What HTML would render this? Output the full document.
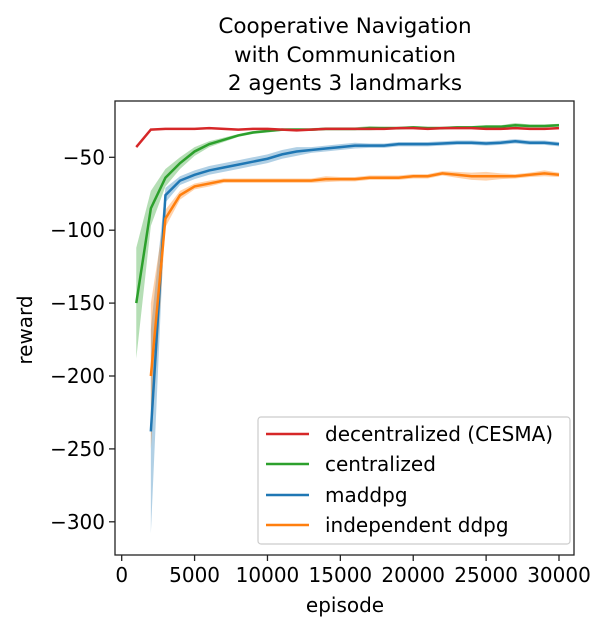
<!DOCTYPE html>
<html><head><meta charset="utf-8"><style>
body{margin:0;background:#fff;}
svg text{font-family:"DejaVu Sans","Liberation Sans",sans-serif;fill:#000;}
</style></head><body>
<svg id="chart" width="607" height="633" xmlns="http://www.w3.org/2000/svg">
<g font-size="21.5" text-anchor="middle">
<text x="345" y="33">Cooperative Navigation</text>
<text x="345" y="62">with Communication</text>
<text x="345" y="90">2 agents 3 landmarks</text>
</g>
<g id="bands"></g>
<g id="lines"></g>
<g id="axes"></g>
<text x="345" y="612" font-size="20" text-anchor="middle">episode</text>
<text transform="translate(32,330) rotate(-90)" font-size="20" text-anchor="middle">reward</text>
<g>
<rect x="258" y="417" width="312" height="127" rx="3" fill="#fff" fill-opacity="0.8" stroke="#ccc" stroke-width="1.2"/>
<g><line x1="266" y1="434" x2="309" y2="434" stroke="#d62728" stroke-width="2.5"/><text x="325" y="441" font-size="20">decentralized (CESMA)</text></g>
<g><line x1="266" y1="464" x2="309" y2="464" stroke="#2ca02c" stroke-width="2.5"/><text x="325" y="471" font-size="20">centralized</text></g>
<g><line x1="266" y1="495" x2="309" y2="495" stroke="#1f77b4" stroke-width="2.5"/><text x="325" y="502" font-size="20">maddpg</text></g>
<g><line x1="266" y1="525" x2="309" y2="525" stroke="#ff7f0e" stroke-width="2.5"/><text x="325" y="532" font-size="20">independent ddpg</text></g>
</g>
</svg>
<script>
const cesmaEpisodes=[1000,2000,3000,4000,5000,6000,7000,8000,9000,10000,11000,12000,13000,14000,15000,16000,17000,18000,19000,20000,21000,22000,23000,24000,25000,26000,27000,28000,29000,30000];
const cesmaValues=[-43,-31,-30.5,-30.5,-30.5,-30,-30.5,-31,-30.5,-30.5,-31,-31.5,-31,-30.5,-30.5,-30.5,-30.5,-30.5,-30,-30,-30.5,-30,-30,-30,-30.5,-30.5,-30,-30.5,-30.5,-30];
const cesmaSpread=[0.5,0.5,0.5,0.5,0.5,0.5,0.5,0.5,0.5,0.5,0.5,0.5,0.5,0.5,0.5,0.5,0.5,0.5,0.5,0.5,0.5,0.5,0.5,0.5,0.5,0.5,0.5,0.5,0.5,0.5];
const centralEpisodes=cesmaEpisodes;
const centralValues=[-150,-85,-64,-54,-46,-41,-38,-35,-33,-32,-31,-31,-31,-30.5,-30.5,-30.5,-30,-30,-30,-29.5,-30,-30,-29.5,-29.5,-29,-29,-28,-28.5,-28.5,-28];
const centralSpread=[38,12,6,4,3,2,1.5,1,1,1,1,1,1,1,1,1,1.5,1,1,1,1,1,1,1,1,1,1.5,1,1,1];
const maddpgEpisodes=cesmaEpisodes.slice(1);
const maddpgValues=[-238,-76,-66,-62,-59,-57,-55,-53,-51,-48,-46,-45,-44,-43,-42,-42,-42,-41,-41,-41,-40.5,-40,-40,-40.5,-40,-39,-40,-40,-41];
const maddpgSpread=[70,5,3,3,3,3,3,3,3,3,3,2,2,2,2,1.5,1.5,1.5,1.5,1.5,1.5,1.5,1.5,1.5,1.5,1.5,1.5,1.5,1.5];
const ddpgEpisodes=cesmaEpisodes.slice(1);
const ddpgValues=[-200,-92,-76,-70,-68,-66,-66,-66,-66,-66,-66,-66,-65,-65,-65,-64,-64,-64,-63,-63,-61,-62,-63,-63,-63,-63,-62,-61,-62,-62];
const ddpgSpread=[50,6,3,2,2,1.5,1.5,1.5,1.5,1.5,1.5,1.5,2,1.5,1.5,1.5,1.5,1.5,1.5,1.5,1.5,2,2.5,3,2,1.5,1.5,2,1.5,1.5];
const xTicks=[0,5000,10000,15000,20000,25000,30000];
const yTicks=[-50,-100,-150,-200,-250,-300];
const AX={l:115,r:574,t:101,b:555};
const xs=v=>121.7+v*437.3/30000;
const ys=v=>157.3+(-50-v)*1.458;
const NS='http://www.w3.org/2000/svg';
function mk(tag,parent){const e=document.createElementNS(NS,tag);document.getElementById(parent).appendChild(e);return e;}
const series=[
 {n:'centralized',c:'#2ca02c',x:centralEpisodes,v:centralValues,s:centralSpread},
 {n:'cesma',c:'#d62728',x:cesmaEpisodes,v:cesmaValues,s:cesmaSpread},
 {n:'maddpg',c:'#1f77b4',x:maddpgEpisodes,v:maddpgValues,s:maddpgSpread},
 {n:'independent-ddpg',c:'#ff7f0e',x:ddpgEpisodes,v:ddpgValues,s:ddpgSpread}
];
series.forEach(S=>{
 const up=S.x.map((x,i)=>xs(x)+','+ys(S.v[i]+S.s[i]));
 const dn=S.x.map((x,i)=>xs(x)+','+ys(S.v[i]-S.s[i])).reverse();
 const b=mk('polygon','bands');
 
 
 b.setAttribute('points',up.concat(dn).join(' '));b.setAttribute('fill',S.c);b.setAttribute('fill-opacity','0.35');
});
[series[2],series[3],series[0],series[1]].forEach(S=>{
 const l=mk('polyline','lines');
 
 
 l.setAttribute('points',S.x.map((x,i)=>xs(x)+','+ys(S.v[i])).join(' '));
 l.setAttribute('fill','none');l.setAttribute('stroke',S.c);l.setAttribute('stroke-width','2.5');
});
const fr=mk('rect','axes');


fr.setAttribute('x',AX.l);fr.setAttribute('y',AX.t);fr.setAttribute('width',AX.r-AX.l);fr.setAttribute('height',AX.b-AX.t);
fr.setAttribute('fill','none');fr.setAttribute('stroke','#222');fr.setAttribute('stroke-width','1.3');
xTicks.forEach(t=>{
 const l=mk('line','axes');
 
 
 l.setAttribute('x1',xs(t));l.setAttribute('x2',xs(t));l.setAttribute('y1',AX.b);l.setAttribute('y2',AX.b+6);l.setAttribute('stroke','#222');l.setAttribute('stroke-width','1.3');
 const tx=mk('text','axes');
 
 
 tx.setAttribute('x',xs(t));tx.setAttribute('y',AX.b+27);tx.setAttribute('font-size','20');tx.setAttribute('text-anchor','middle');tx.textContent=t;
});
yTicks.forEach(t=>{
 const l=mk('line','axes');
 
 
 l.setAttribute('x1',AX.l-6);l.setAttribute('x2',AX.l);l.setAttribute('y1',ys(t));l.setAttribute('y2',ys(t));l.setAttribute('stroke','#222');l.setAttribute('stroke-width','1.3');
 const tx=mk('text','axes');
 
 
 tx.setAttribute('x',AX.l-10);tx.setAttribute('y',ys(t)+7);tx.setAttribute('font-size','20');tx.setAttribute('text-anchor','end');tx.textContent='\u2212'+Math.abs(t);
});
</script>
</body></html>
